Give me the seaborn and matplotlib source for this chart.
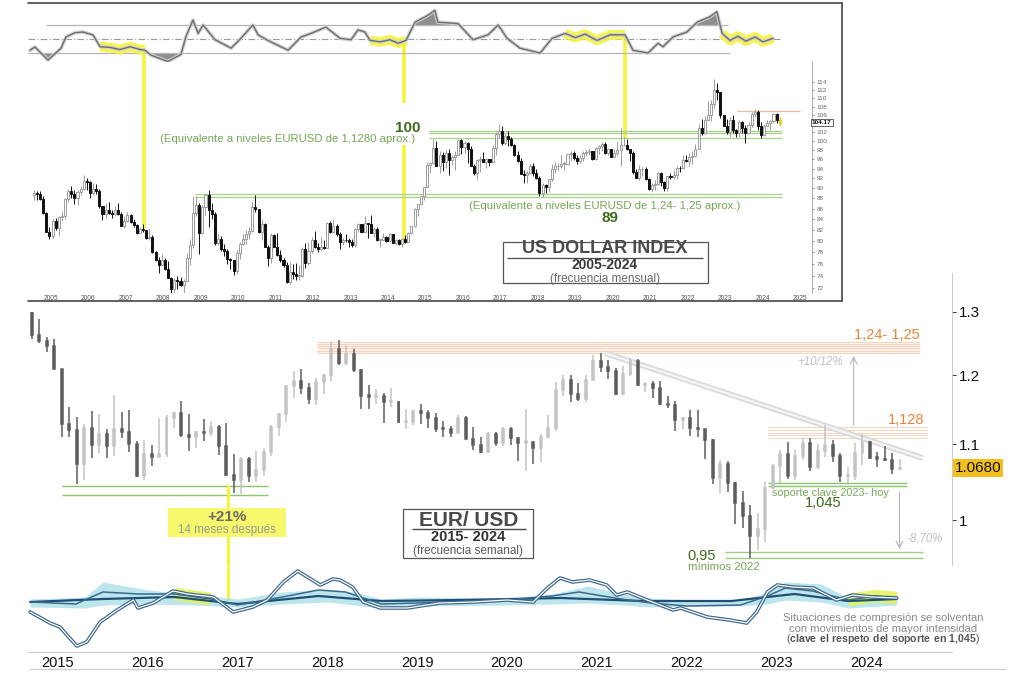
import numpy as np
import pandas as pd
import matplotlib
matplotlib.use("Agg")
import matplotlib.pyplot as plt
import seaborn as sns
from matplotlib.lines import Line2D
from matplotlib.patches import Rectangle
import matplotlib.transforms as mtransforms
from matplotlib.ticker import FixedLocator, FixedFormatter, NullLocator

# ======================= DATA =======================
# US Dollar Index, monthly, Jul 2004 - Jun 2024
dxy_first_month = 2004 + 6 / 12
dxy_open0 = 88.6
dxy_close = [
    89.0, 88.8, 87.9, 85.1, 81.7, 80.9,
    83.6, 82.4, 84.4, 84.5, 87.9, 89.5, 88.9, 88.0, 89.2, 89.8, 91.4, 91.2,
    89.1, 89.9, 89.5, 86.4, 85.0, 85.7, 85.2, 85.0, 85.8, 85.0, 82.8, 83.6,
    84.8, 83.4, 82.9, 81.5, 82.2, 81.9, 80.5, 80.8, 78.1, 76.6, 75.9, 76.7,
    75.1, 73.7, 71.8, 73.3, 73.2, 72.5, 73.2, 77.1, 79.3, 85.2, 86.6, 81.4,
    86.3, 88.6, 85.7, 85.0, 79.7, 80.3, 78.5, 78.3, 76.8, 76.6, 74.8, 77.9,
    79.5, 80.4, 81.2, 81.8, 86.3, 86.0, 81.6, 83.1, 79.0, 77.0, 81.1, 79.0,
    77.6, 76.7, 75.9, 73.0, 74.6, 74.3, 74.0, 74.0, 78.6, 76.2, 78.3, 80.2,
    79.0, 78.6, 79.0, 78.8, 83.2, 81.6, 82.7, 81.2, 79.9, 80.2, 80.1, 79.8,
    79.2, 82.1, 83.0, 81.7, 83.3, 83.1, 81.5, 82.1, 80.2, 80.2, 80.7, 80.0,
    81.2, 79.7, 80.1, 79.5, 80.4, 79.8, 81.5, 82.8, 86.0, 86.9, 88.4, 90.3,
    94.8, 95.3, 98.4, 94.6, 96.9, 95.5, 97.3, 95.8, 96.4, 97.0, 100.2, 98.6,
    99.6, 98.2, 94.6, 93.1, 95.9, 96.1, 95.5, 96.0, 95.4, 98.4, 101.5, 102.2,
    99.5, 101.1, 100.4, 99.1, 97.0, 95.6, 92.9, 92.7, 93.1, 94.5, 93.1, 92.1,
    89.1, 90.6, 90.2, 91.8, 94.0, 94.5, 94.5, 95.1, 95.1, 97.1, 97.3, 96.2,
    95.6, 96.2, 97.3, 97.5, 97.8, 96.1, 98.5, 98.9, 99.4, 97.4, 98.3, 96.4,
    97.4, 98.1, 99.0, 99.0, 98.3, 97.4, 93.3, 92.1, 93.9, 94.0, 91.9, 89.9,
    90.6, 90.9, 93.2, 91.3, 90.0, 92.4, 92.2, 92.6, 94.2, 94.1, 95.9, 95.7,
    96.5, 96.7, 98.3, 103.0, 101.8, 104.7, 105.9, 108.7, 112.1, 111.5, 105.9, 103.5,
    102.1, 104.9, 102.5, 101.7, 104.3, 102.9, 101.9, 103.6, 106.2, 106.7, 103.5, 101.3,
    103.3, 104.2, 104.5, 106.2, 104.7, 104.17]
dxy_high = [
    89.6, 89.5, 89.4, 88.5, 85.4, 82.6,
    84.0, 84.3, 84.6, 85.5, 88.0, 89.8, 90.5, 89.6, 89.6, 90.5, 92.6, 92.0,
    91.4, 91.1, 90.9, 89.8, 86.5, 87.1, 87.2, 85.8, 86.5, 87.0, 85.4, 84.6,
    85.4, 85.0, 84.1, 83.1, 82.6, 83.0, 82.0, 82.1, 81.1, 78.3, 77.2, 77.7,
    77.0, 76.5, 73.9, 73.6, 74.0, 73.8, 73.5, 77.8, 80.4, 88.5, 88.5, 87.0,
    86.7, 88.9, 89.6, 87.0, 85.4, 81.4, 80.9, 79.4, 78.6, 77.1, 76.7, 78.4,
    79.9, 81.3, 82.0, 82.6, 87.2, 88.7, 86.0, 84.0, 83.3, 79.3, 81.5, 81.3,
    81.4, 78.4, 77.0, 76.3, 76.4, 76.0, 76.1, 75.9, 79.0, 79.6, 79.8, 80.8,
    81.8, 79.7, 80.7, 80.1, 83.5, 83.6, 84.1, 83.0, 81.6, 80.5, 81.3, 80.5,
    80.4, 82.3, 83.2, 83.1, 84.5, 83.3, 84.8, 82.5, 82.6, 80.6, 81.5, 80.9,
    81.5, 81.3, 80.4, 80.4, 80.6, 81.0, 81.6, 82.8, 86.1, 86.9, 88.6, 90.3,
    95.5, 95.5, 100.4, 100.0, 97.7, 97.5, 98.1, 98.3, 96.9, 97.9, 100.5, 100.5,
    100.0, 99.8, 98.8, 95.1, 96.0, 96.8, 97.6, 96.2, 96.0, 99.1, 102.0, 103.8,
    103.3, 101.8, 102.3, 101.0, 99.4, 97.9, 96.3, 93.7, 93.5, 95.2, 95.2, 94.0,
    92.4, 91.0, 90.9, 91.9, 95.0, 95.5, 95.2, 96.9, 95.7, 97.2, 97.7, 97.7,
    96.9, 96.9, 97.7, 98.3, 98.4, 97.8, 98.7, 99.0, 99.7, 99.7, 98.5, 98.3,
    98.2, 99.9, 103.0, 100.9, 100.5, 98.3, 97.8, 93.9, 94.7, 94.3, 94.3, 92.0,
    91.0, 91.6, 93.4, 93.4, 91.4, 92.4, 93.2, 93.7, 94.5, 94.6, 96.9, 96.9,
    97.4, 97.8, 99.4, 103.9, 105.0, 105.8, 109.3, 109.5, 114.8, 113.9, 111.6, 105.8,
    105.0, 105.4, 105.9, 102.8, 104.7, 104.5, 103.6, 104.4, 106.8, 107.3, 107.1, 104.3,
    103.8, 104.9, 104.7, 106.5, 106.5, 105.4]
dxy_low = [
    87.6, 87.6, 87.6, 84.9, 81.6, 80.4,
    80.4, 82.0, 80.9, 83.7, 84.1, 87.2, 88.1, 86.8, 86.6, 88.6, 89.7, 89.6,
    88.0, 88.7, 88.9, 86.2, 83.9, 84.3, 84.9, 84.3, 84.6, 84.8, 82.8, 82.3,
    83.5, 83.2, 82.6, 81.3, 81.4, 81.7, 80.3, 80.2, 77.9, 76.5, 74.5, 75.8,
    74.9, 73.6, 70.7, 71.3, 71.9, 72.3, 71.3, 73.1, 75.8, 78.8, 84.6, 77.7,
    81.3, 84.7, 82.6, 84.1, 79.3, 79.2, 78.3, 77.4, 76.0, 75.2, 74.2, 74.3,
    76.9, 79.2, 79.5, 80.3, 81.6, 85.4, 81.4, 80.1, 78.9, 75.6, 76.2, 78.9,
    77.3, 76.3, 75.5, 72.9, 72.7, 73.5, 73.4, 73.4, 73.9, 75.3, 75.9, 77.9,
    78.7, 78.1, 78.4, 78.6, 78.9, 81.4, 81.9, 80.9, 78.6, 79.3, 79.8, 79.0,
    78.9, 78.9, 81.6, 81.6, 81.6, 80.5, 81.5, 80.8, 80.0, 79.0, 80.1, 79.8,
    79.9, 79.6, 79.3, 79.3, 78.9, 79.7, 79.8, 81.3, 82.6, 84.5, 86.6, 87.6,
    90.3, 93.2, 95.1, 94.5, 93.1, 93.5, 94.1, 92.6, 94.8, 93.8, 96.8, 97.2,
    97.4, 95.2, 94.6, 92.6, 91.9, 93.4, 95.5, 94.1, 94.6, 95.4, 96.9, 100.6,
    99.2, 99.2, 98.9, 98.8, 96.8, 95.5, 92.8, 91.0, 91.0, 92.8, 92.5, 91.9,
    88.4, 88.3, 89.1, 89.2, 91.5, 93.2, 93.7, 94.1, 93.8, 94.8, 95.7, 95.9,
    95.0, 95.2, 95.7, 96.7, 97.0, 95.8, 95.9, 97.1, 97.9, 97.1, 97.0, 96.4,
    96.4, 97.0, 94.6, 98.8, 98.1, 95.7, 92.9, 92.1, 91.7, 92.5, 91.7, 89.7,
    89.2, 89.7, 90.6, 90.4, 89.5, 89.5, 91.8, 91.8, 91.9, 93.3, 93.9, 95.5,
    94.6, 95.1, 96.8, 98.3, 101.3, 101.6, 105.1, 104.6, 107.7, 109.5, 105.3, 103.4,
    101.5, 100.8, 101.9, 100.8, 100.8, 101.9, 99.6, 101.7, 103.2, 105.4, 102.5, 100.6,
    101.1, 103.3, 102.4, 104.2, 104.1, 103.5]

# EUR/USD, Sep 2014 - May 2024
eur_first_month = 2014 + 8 / 12
eur_open0 = 1.2985
eur_close = [
    1.2631, 1.2526, 1.2452, 1.2098,
    1.1291, 1.1196, 1.0731, 1.1224, 1.0987, 1.1146, 1.0985, 1.1212, 1.1177, 1.1006, 1.0565, 1.0862,
    1.0830, 1.0872, 1.1380, 1.1452, 1.1131, 1.1105, 1.1175, 1.1157, 1.1240, 1.0983, 1.0590, 1.0517,
    1.0797, 1.0575, 1.0652, 1.0894, 1.1240, 1.1426, 1.1842, 1.1910, 1.1814, 1.1646, 1.1905, 1.2005,
    1.2414, 1.2195, 1.2324, 1.2078, 1.1694, 1.1685, 1.1690, 1.1601, 1.1605, 1.1312, 1.1317, 1.1467,
    1.1446, 1.1371, 1.1217, 1.1215, 1.1166, 1.1371, 1.1076, 1.0986, 1.0899, 1.1152, 1.1017, 1.1213,
    1.1093, 1.1027, 1.1031, 1.0954, 1.1103, 1.1234, 1.1778, 1.1937, 1.1722, 1.1646, 1.1927, 1.2216,
    1.2136, 1.2075, 1.1728, 1.2020, 1.2227, 1.1858, 1.1870, 1.1807, 1.1580, 1.1558, 1.1338, 1.1370,
    1.1234, 1.1218, 1.1067, 1.0545, 1.0733, 1.0484, 1.0220, 1.0054, 0.9802, 0.9884, 1.0406, 1.0705,
    1.0863, 1.0576, 1.0839, 1.1018, 1.0689, 1.0912, 1.0998, 1.0842, 1.0573, 1.0576, 1.0888, 1.1039,
    1.0818, 1.0805, 1.0790, 1.0665, 1.0680]
eur_high = [
    1.3000, 1.2887, 1.2600, 1.2570,
    1.2100, 1.1534, 1.1387, 1.1290, 1.1467, 1.1436, 1.1215, 1.1714, 1.1460, 1.1495, 1.1043, 1.1060,
    1.0986, 1.1376, 1.1410, 1.1464, 1.1616, 1.1428, 1.1185, 1.1366, 1.1327, 1.1278, 1.1300, 1.0874,
    1.0829, 1.0829, 1.0906, 1.0951, 1.1268, 1.1446, 1.1846, 1.2070, 1.2092, 1.1880, 1.1961, 1.2023,
    1.2537, 1.2556, 1.2476, 1.2414, 1.2098, 1.1852, 1.1791, 1.1744, 1.1815, 1.1625, 1.1500, 1.1486,
    1.1570, 1.1489, 1.1448, 1.1324, 1.1265, 1.1412, 1.1403, 1.1249, 1.1109, 1.1179, 1.1175, 1.1239,
    1.1239, 1.1053, 1.1496, 1.1039, 1.1146, 1.1422, 1.1908, 1.2011, 1.2011, 1.1880, 1.2004, 1.2310,
    1.2349, 1.2243, 1.2113, 1.2150, 1.2266, 1.2254, 1.1895, 1.1909, 1.1909, 1.1692, 1.1616, 1.1386,
    1.1483, 1.1495, 1.1185, 1.1076, 1.0787, 1.0774, 1.0486, 1.0368, 1.0198, 1.0094, 1.0497, 1.0736,
    1.0929, 1.1033, 1.0930, 1.1095, 1.1092, 1.1012, 1.1276, 1.1065, 1.0882, 1.0695, 1.1017, 1.1140,
    1.1046, 1.0897, 1.0981, 1.0885, 1.0800]
eur_low = [
    1.2571, 1.2500, 1.2358, 1.2100,
    1.1098, 1.1098, 1.0462, 1.0520, 1.0819, 1.0886, 1.0808, 1.0846, 1.1087, 1.0897, 1.0558, 1.0524,
    1.0711, 1.0835, 1.0822, 1.1234, 1.1098, 1.0912, 1.0952, 1.1046, 1.1122, 1.0851, 1.0569, 1.0352,
    1.0340, 1.0494, 1.0493, 1.0569, 1.0839, 1.1119, 1.1312, 1.1662, 1.1717, 1.1574, 1.1554, 1.1717,
    1.1915, 1.2153, 1.2155, 1.2055, 1.1510, 1.1508, 1.1576, 1.1301, 1.1526, 1.1302, 1.1216, 1.1269,
    1.1289, 1.1234, 1.1176, 1.1110, 1.1107, 1.1181, 1.1102, 1.0926, 1.0879, 1.0879, 1.0981, 1.0981,
    1.0992, 1.0778, 1.0636, 1.0727, 1.0766, 1.1097, 1.1185, 1.1696, 1.1612, 1.1622, 1.1603, 1.1925,
    1.2053, 1.1952, 1.1704, 1.1704, 1.1986, 1.1848, 1.1752, 1.1664, 1.1563, 1.1524, 1.1186, 1.1222,
    1.1121, 1.1106, 1.0806, 1.0470, 1.0349, 1.0359, 0.9952, 0.9901, 0.9536, 0.9632, 0.9730, 1.0393,
    1.0483, 1.0533, 1.0516, 1.0788, 1.0635, 1.0662, 1.0834, 1.0766, 1.0488, 1.0448, 1.0517, 1.0723,
    1.0795, 1.0695, 1.0768, 1.0601, 1.0650]

# Top oscillator (DXY)
osc1_t = [2004.44, 2004.57, 2004.92, 2005.27, 2005.40, 2005.64, 2005.85, 2006.12, 2006.31, 2006.58,
          2006.84, 2007.11, 2007.38, 2007.51, 2007.67, 2008.12, 2008.47, 2008.60, 2008.79, 2008.93,
          2009.06, 2009.38, 2009.81, 2010.07, 2010.39, 2010.53, 2010.79, 2011.33, 2011.68, 2011.94,
          2012.34, 2012.72, 2013.01, 2013.20, 2013.38, 2013.52, 2013.79, 2014.05, 2014.27, 2014.48,
          2014.72, 2015.07, 2015.25, 2015.33, 2015.87, 2016.27, 2016.67, 2016.94, 2017.18, 2017.52,
          2018.06, 2018.38, 2018.73, 2019.00, 2019.26, 2019.58, 2019.93, 2020.33, 2020.54, 2020.94,
          2021.21, 2021.34, 2021.61, 2021.98, 2022.25, 2022.60, 2022.78, 2022.92, 2023.13, 2023.34,
          2023.56, 2023.80, 2024.01, 2024.28]
osc1_v = [-0.8, -0.57, -1.5, -0.65, 0.15, 0.45, 0.5, 0.3, -0.55, -0.6,
          -0.75, -0.55, -0.75, -0.8, -1.15, -1.6, -1.1, 0.15, 1.35, 0.4,
          1.0, -0.05, -0.65, 0.05, 1.0, 0.3, -0.1, -0.8, 0.15, 0.4,
          0.85, 0.05, -0.05, 0.65, 0.5, -0.1, -0.2, -0.05, -0.3, -0.1,
          1.2, 1.7, 2.05, 1.2, 1.1, -0.05, 0.3, 1.0, 0.05, -0.65,
          -1.0, 0.05, 0.4, 0.1, 0.35, -0.1, 0.3, 0.3, -0.8, -1.0,
          -0.3, -0.55, 0.15, 0.5, 1.2, 1.6, 1.95, 0.4, -0.1, 0.2,
          -0.15, 0.15, -0.2, 0.05]
osc1_yellow = [(2006.31, 2007.51), (2013.52, 2014.48), (2018.73, 2020.33), (2022.92, 2024.28)]

# Bottom oscillator (EUR/USD)
fast_t = [2014.69, 2014.91, 2015.02, 2015.21, 2015.32, 2015.47, 2015.66, 2015.84, 2015.89, 2016.06,
          2016.28, 2016.44, 2016.73, 2016.95, 2017.17, 2017.33, 2017.51, 2017.67, 2017.92, 2018.06,
          2018.14, 2018.28, 2018.40, 2018.59, 2018.89, 2019.25, 2019.62, 2020.00, 2020.29, 2020.45,
          2020.59, 2020.73, 2020.92, 2021.11, 2021.22, 2021.34, 2021.56, 2021.85, 2021.93, 2022.23,
          2022.48, 2022.67, 2022.78, 2022.90, 2023.01, 2023.18, 2023.41, 2023.67, 2023.85, 2024.07,
          2024.34]
fast_v = [-1.0, -2.1, -2.5, -4.4, -4.0, -2.0, -0.8, 0.2, -0.6, -0.1,
          1.1, 0.8, 0.5, -1.0, -0.5, 0.2, 2.0, 3.1, 1.7, 2.3,
          2.2, 1.5, 0.0, -0.6, -0.6, -0.1, 0.0, 0.2, 0.0, 1.4,
          2.4, 2.0, 2.2, 1.7, 0.7, 1.0, 0.2, -0.8, -0.6, -1.5,
          -1.8, -2.1, -1.0, 1.0, 1.7, 1.5, 1.4, 0.2, 0.7, 0.5,
          0.4]
mid_t = [2014.69, 2015.2, 2015.5, 2015.9, 2016.3, 2016.7, 2017.0, 2017.5, 2017.9, 2018.2, 2018.6,
         2019.0, 2020.0, 2020.5, 2020.8, 2021.2, 2021.6, 2022.0, 2022.6, 2022.9, 2023.1, 2023.4,
         2023.8, 2024.1, 2024.34]
mid_v = [0.0, -0.2, 1.0, 0.8, 0.8, 0.3, -0.3, 0.5, 1.2, 1.0, -0.2,
         -0.1, 0.2, 0.6, 1.0, 0.4, -0.1, -0.4, -0.3, 0.6, 1.4, 1.1,
         0.2, 0.6, 0.4]
slow_t = [2014.69, 2015.5, 2016.3, 2017.0, 2017.9, 2018.6, 2019.5, 2020.6, 2021.5, 2022.5,
          2023.2, 2023.8, 2024.34]
slow_v = [0.0, 0.3, 0.5, -0.2, 0.6, 0.1, 0.2, 0.4, 0.1, 0.1, 0.8, 0.1, 0.3]
band_t = [2014.69, 2015.3, 2015.5, 2016.0, 2016.5, 2017.0, 2017.5, 2018.0, 2018.3, 2018.6,
          2019.0, 2020.0, 2020.5, 2020.9, 2021.3, 2021.6, 2022.0, 2022.6, 2022.9, 2023.1,
          2023.5, 2023.8, 2024.34]
band_hi = [0.3, 0.5, 2.0, 1.2, 0.8, 0.3, 1.0, 1.3, 1.0, 0.3,
           0.5, 0.4, 0.8, 1.6, 0.8, 0.4, 0.2, 0.2, 1.0, 2.0,
           1.8, 0.4, 0.6]
band_lo = [-0.5, -0.6, -0.3, -0.2, -0.3, -0.5, -0.2, 0.0, -0.3, -0.6,
           -0.4, -0.3, -0.2, -0.1, -0.3, -0.5, -0.4, -0.4, -0.2, 0.2,
           0.0, -0.6, -0.3]
osc2_yellow = [(2016.3, 2016.9), (2023.8, 2024.34)]

# Levels / annotations (values)
dxy_lvl_100 = [102.3, 101.7, 100.6]
dxy_lvl_89 = [88.8, 88.2]
dxy_lvl_res = 106.9
eur_lvl_124 = [1.2345, 1.238, 1.2415, 1.245, 1.2485, 1.2517]
eur_lvl_1128 = [1.109, 1.1128, 1.1166, 1.1205, 1.1246]
eur_lvl_support = [1.048, 1.0441]
eur_lvl_095 = [0.961, 0.953]
eur_lvl_2016 = [1.0441, 1.0325]
trend_t = [2021.09, 2024.63]
trend_v = [1.2345, 1.0813]
dxy_years = list(range(2005, 2026))
eur_years = list(range(2015, 2025))

# ======================= STYLE =======================
sns.set_theme(style="white")
plt.rcParams['font.family'] = ['Liberation Sans', 'DejaVu Sans']
plt.rcParams['mathtext.fontset'] = 'custom'
plt.rcParams['mathtext.rm'] = 'Liberation Sans'
plt.rcParams['mathtext.bf'] = 'Liberation Sans:bold'

W, H = 1020, 682
fig = plt.figure(figsize=(W / 100, H / 100), dpi=100)
fig.patch.set_facecolor('white')


def px(x0, y0, x1, y1):
    return [x0 / W, 1 - y1 / H, (x1 - x0) / W, (y1 - y0) / H]


GREEN_D = '#3e6b1c'
GREEN_T = '#76a656'
GREEN_L = '#a9d18e'
ORANGE = '#e8833a'
SALMON = '#f8d3bd'
YELLOW = '#f4f43a'


def candles(ax, t, o, h, l, c, width, up_face, up_edge, dn_face, dn_edge, lw):
    up = c >= o
    ax.vlines(t, l, h, colors=np.where(up, up_edge, dn_edge), lw=lw, zorder=3)
    bottom = np.minimum(o, c)
    height = np.maximum(np.abs(c - o), bottom * 0.0015)
    ax.bar(t, height, bottom=bottom, width=width,
           color=np.where(up, up_face, dn_face),
           edgecolor=np.where(up, up_edge, dn_edge), linewidth=lw, zorder=4)


def hide(ax):
    for s in ax.spines.values():
        s.set_visible(False)
    ax.set_facecolor('none')


# ---------- Axes ----------
ax0 = fig.add_axes(px(28, 4, 812, 62))
ax1 = fig.add_axes(px(28, 62, 812, 293))
ax2 = fig.add_axes(px(28, 273, 952, 565))
ax3 = fig.add_axes(px(28, 565, 952, 652))
for a in (ax0, ax1, ax2, ax3):
    hide(a)

XL1 = (2004.386, 2025.32)
XL2 = (2014.666, 2024.955)

# ================= TOP: DXY oscillator =================
t1 = np.array(osc1_t)
v1 = np.array(osc1_v)
ax0.set_xlim(*XL1)
ax0.set_ylim(-1.64, 2.5)
ax0.hlines(1, 2004.87, 2023.08, color='#b5b5b5', lw=0.9)
ax0.hlines(-1, 2004.39, 2023.13, color='#b5b5b5', lw=0.9)
ax0.hlines(0, 2004.39, 2024.47, color='#9a9a9a', lw=0.8, linestyles=(0, (6, 2, 1, 2)))
ax0.fill_between(t1, v1, 1, where=v1 > 1, interpolate=True, color='#8f8f8f', lw=0)
ax0.fill_between(t1, v1, -1, where=v1 < -1, interpolate=True, color='#8f8f8f', lw=0)
for a, b in osc1_yellow:
    m = (t1 >= a - 1e-6) & (t1 <= b + 1e-6)
    ax0.plot(t1[m], v1[m], color=YELLOW, lw=7, solid_capstyle='butt', alpha=0.9, zorder=2)
sns.lineplot(x=t1, y=v1, ax=ax0, color='#cfcfcf', lw=2.6, legend=False, zorder=3)
sns.lineplot(x=t1, y=v1, ax=ax0, color='#6f6f6f', lw=1.0, legend=False, zorder=4)
ax0.set_xticks([]); ax0.set_yticks([])
ax0.set_xlabel(''); ax0.set_ylabel('')

# ================= TOP: DXY candles =================
nd = len(dxy_close)
td = dxy_first_month + np.arange(nd) / 12 + 1 / 24
cd = np.array(dxy_close)
od = np.concatenate([[dxy_open0], cd[:-1]])
hd = np.array(dxy_high)
ld = np.array(dxy_low)
ax1.set_yscale('log')
ax1.set_xlim(*XL1)
ax1.set_ylim(71.23, 119.28)
candles(ax1, td[:-1], od[:-1], hd[:-1], ld[:-1], cd[:-1], 0.055,
        'white', '#9c9c9c', '#111111', '#111111', 0.7)
candles(ax1, td[-1:], od[-1:], hd[-1:], ld[-1:], cd[-1:], 0.055,
        '#fff7a8', '#d9c800', '#fff7a8', '#d9c800', 0.9)

ax1.hlines(dxy_lvl_100, 2015.1, 2024.52, color=GREEN_L, lw=0.9, zorder=2)
ax1.hlines(dxy_lvl_89, 2008.85, 2024.52, color=GREEN_L, lw=0.9, zorder=2)
ax1.hlines(dxy_lvl_res, 2023.32, 2025.0, color='#f3b898', lw=0.9, zorder=2)

ax1.text(2014.53, 102.9, '100', ha='center', va='center', fontsize=11,
         fontweight='bold', color=GREEN_D)
ax1.text(2011.33, 100.44, '(Equivalente a niveles EURUSD de 1,1280 aprox.)', ha='center',
         va='center', fontsize=8.2, color=GREEN_T)
ax1.text(2019.79, 86.45, '(Equivalente a niveles EURUSD de 1,24- 1,25 aprox.)', ha='center',
         va='center', fontsize=8.2, color=GREEN_T)
ax1.text(2019.93, 84.3, '89', ha='center', va='center', fontsize=11,
         fontweight='bold', color=GREEN_D)

ax1.add_patch(Rectangle((2017.07, 72.85), 2022.54 - 2017.07, 79.9 - 72.85,
                        fill=False, edgecolor='#555555', lw=0.9, zorder=5))
ax1.text(2019.79, 78.6, 'US DOLLAR INDEX', ha='center', va='center', fontsize=13,
         fontweight='bold', color='#4a4a4a', zorder=6)
ax1.hlines(77.05, 2017.18, 2022.40, color='#4a4a4a', lw=0.9, zorder=6)
ax1.text(2019.79, 75.75, '2005-2024', ha='center', va='center', fontsize=10,
         fontweight='bold', color='#3a3a3a', zorder=6)
ax1.text(2019.79, 73.55, '(frecuencia mensual)', ha='center', va='center', fontsize=8.5,
         color='#6a6a6a', zorder=6)

# yellow verticals (top)
ax0.vlines([2007.48], -1.64, -0.9, color=YELLOW, lw=2.6, zorder=1)
ax0.vlines([2014.43], -1.64, -0.3, color=YELLOW, lw=2.6, zorder=1)
ax0.vlines([2020.33], -1.64, 0.3, color=YELLOW, lw=2.6, zorder=1)
ax1.vlines([2007.48], 82.4, 119.28, color=YELLOW, lw=2.6, zorder=1)
ax1.vlines([2014.43], 108.9, 119.28, color=YELLOW, lw=2.6, zorder=1)
ax1.vlines([2014.43], 79.4, 99.0, color=YELLOW, lw=2.6, zorder=1)
ax1.vlines([2020.33], 100.7, 119.28, color=YELLOW, lw=2.6, zorder=1)

# right axis (DXY)
ax1.spines['right'].set_visible(True)
ax1.spines['right'].set_color('#a0a0a0')
ax1.spines['right'].set_linewidth(0.6)
dxy_ticks = [v for v in range(72, 115, 2) if v != 104]
ax1.yaxis.set_major_locator(FixedLocator(dxy_ticks))
ax1.yaxis.set_major_formatter(FixedFormatter([str(v) for v in dxy_ticks]))
ax1.yaxis.set_minor_locator(NullLocator())
ax1.yaxis.tick_right()
ax1.tick_params(axis='y', labelsize=4.6, colors='#666666', length=1.5, width=0.5, pad=2)
ax1.text(1.0, 104.17, '104.17', transform=mtransforms.blended_transform_factory(ax1.transAxes, ax1.transData),
         ha='left', va='center', fontsize=4.6, fontweight='bold', color='#111111',
         bbox=dict(boxstyle='square,pad=0.15', fc='white', ec='#222222', lw=0.5), zorder=7)
ax1.set_xticks(dxy_years)
ax1.set_xticklabels([str(y) for y in dxy_years])
ax1.tick_params(axis='x', labelsize=4.8, colors='#555555', length=0, pad=1.5)
ax1.set_xlabel(''); ax1.set_ylabel('')

# ================= BOTTOM: EUR/USD candles =================
ne = len(eur_close)
te = eur_first_month + np.arange(ne) / 12 + 1 / 24
ce = np.array(eur_close)
oe = np.concatenate([[eur_open0], ce[:-1]])
he = np.array(eur_high)
le = np.array(eur_low)
ax2.set_yscale('log')
ax2.set_xlim(*XL2)
ax2.set_ylim(0.9449, 1.3655)

ax2.fill_between([2017.88, 2024.6], eur_lvl_124[0], eur_lvl_124[-1], color='#fef1ea', lw=0, zorder=1)
ax2.hlines(eur_lvl_124, 2017.88, 2024.6, color=SALMON, lw=0.7, zorder=1)
ax2.hlines(eur_lvl_1128, 2022.91, 2024.68, color=SALMON, lw=0.7, zorder=1)
ax2.hlines(eur_lvl_support, 2022.91, 2024.45, color='#8fc46e', lw=1.0, zorder=1)
ax2.hlines(eur_lvl_095, 2022.43, 2024.63, color='#9fcc80', lw=1.0, zorder=1)
ax2.hlines(eur_lvl_2016, 2015.04, 2017.34, color='#8fc46e', lw=1.0, zorder=1)
ax2.plot(trend_t, trend_v, color='#d9d9d9', lw=4.2, solid_capstyle='butt', zorder=2)
ax2.plot(trend_t, trend_v, color='#f3f3f3', lw=1.8, solid_capstyle='butt', zorder=2)

candles(ax2, te, oe, he, le, ce, 0.022, '#c4c4c4', '#c4c4c4', '#5c5c5c', '#5c5c5c', 1.1)

ax2.annotate('', xy=(2023.86, 1.2298), xytext=(2023.86, 1.1272),
             arrowprops=dict(arrowstyle='->', color='#b5b5b5', lw=0.8, shrinkA=0, shrinkB=0))
ax2.annotate('', xy=(2024.37, 0.964), xytext=(2024.37, 1.036),
             arrowprops=dict(arrowstyle='->', color='#b5b5b5', lw=0.8, shrinkA=0, shrinkB=0))
ax2.text(2024.23, 1.2628, '1,24- 1,25', ha='center', va='center', fontsize=10.5, color=ORANGE)
ax2.text(2023.49, 1.2206, '+10/12%', ha='center', va='center', fontsize=8.3,
         color='#c0c0c0', style='italic')
ax2.text(2024.44, 1.1344, '1,128', ha='center', va='center', fontsize=10.5, color=ORANGE)
ax2.text(2023.60, 1.0348, 'soporte clave 2023- hoy', ha='center', va='center', fontsize=7.8,
         color=GREEN_T)
ax2.text(2023.52, 1.0218, '1,045', ha='center', va='center', fontsize=10.5, color=GREEN_D)
ax2.text(2024.65, 0.9774, '-8,70%', ha='center', va='center', fontsize=8.3,
         color='#c0c0c0', style='italic')
ax2.text(2022.17, 0.9555, '0,95', ha='center', va='center', fontsize=10.5, color=GREEN_D)
ax2.text(2022.41, 0.9422, 'mínimos 2022', ha='center', va='center', fontsize=8.2, color=GREEN_T)

# EUR/USD title box
ax2.add_patch(Rectangle((2018.84, 0.953), 2020.29 - 2018.84, 1.0139 - 0.953,
                        fill=False, edgecolor='#555555', lw=0.9, zorder=5))
ax2.text(2019.57, 0.9990, 'EUR/ USD', ha='center', va='center', fontsize=15,
         fontweight='bold', color='#4a4a4a', zorder=6)
ax2.hlines(0.9890, 2018.94, 2020.21, color='#4a4a4a', lw=1.0, zorder=6)
ax2.text(2019.57, 0.9786, '2015- 2024', ha='center', va='center', fontsize=10.5,
         fontweight='bold', color='#333333', zorder=6)
ax2.text(2019.57, 0.9619, '(frecuencia semanal)', ha='center', va='center', fontsize=8.5,
         color='#5a5a5a', zorder=6)

# +21% box & yellow vertical
ax2.vlines([2016.89], 0.9449, 1.045, color=YELLOW, lw=2.2, zorder=3)
ax3.vlines([2016.89], 0.2, 3.7, color=YELLOW, lw=2.2, zorder=1)
ax2.add_patch(Rectangle((2016.22, 0.9786), 2017.54 - 2016.22, 1.0151 - 0.9786,
                        facecolor='#f8f86c', edgecolor='none', zorder=6))
ax2.text(2016.88, 1.0037, '+21%', ha='center', va='center', fontsize=11,
         fontweight='bold', color='#6a6a6a', zorder=7)
ax2.text(2016.88, 0.9871, '14 meses después', ha='center', va='center', fontsize=8.4,
         color='#9a9a9a', zorder=7)

# right axis EUR/USD
ax2.spines['right'].set_visible(True)
ax2.spines['right'].set_color('#cccccc')
ax2.spines['right'].set_linewidth(0.8)
ax2.yaxis.set_major_locator(FixedLocator([1.0, 1.1, 1.2, 1.3]))
ax2.yaxis.set_major_formatter(FixedFormatter(['1', '1.1', '1.2', '1.3']))
ax2.yaxis.set_minor_locator(NullLocator())
ax2.yaxis.tick_right()
ax2.tick_params(axis='y', labelsize=11, colors='#111111', length=3, width=0.6, pad=2)
ax2.set_xticks([])
ax2.text(1.003, 1.068, '1.0680', transform=mtransforms.blended_transform_factory(ax2.transAxes, ax2.transData),
         ha='left', va='center', fontsize=11, color='#111111',
         bbox=dict(boxstyle='square,pad=0.12', fc='#f2c01e', ec='none'), zorder=7)
ax2.set_xlabel(''); ax2.set_ylabel('')

# ================= BOTTOM oscillator =================
ax3.set_xlim(*XL2)
ax3.set_ylim(-5.0, 3.7)
bt = np.array(band_t)
ax3.fill_between(bt, band_lo, band_hi, color='#a6dde6', alpha=0.75, lw=0, zorder=1)
mt = np.array(mid_t); mv = np.array(mid_v)
for a, b in osc2_yellow:
    m = (mt >= a - 1e-6) & (mt <= b + 1e-6)
    ax3.plot(mt[m], mv[m], color='#e3f25a', lw=9, alpha=0.85, solid_capstyle='butt', zorder=2)
sns.lineplot(x=slow_t, y=slow_v, ax=ax3, color='#1f4f75', lw=1.6, legend=False, zorder=3)
sns.lineplot(x=mid_t, y=mid_v, ax=ax3, color='#3a6a8c', lw=1.1, legend=False, zorder=3)
sns.lineplot(x=fast_t, y=fast_v, ax=ax3, color='#3a6488', lw=2.6, legend=False, zorder=4)
sns.lineplot(x=fast_t, y=fast_v, ax=ax3, color='white', lw=0.9, legend=False, zorder=5)
ax3.spines['bottom'].set_visible(True)
ax3.spines['bottom'].set_color('#cccccc')
ax3.spines['bottom'].set_linewidth(0.8)
ax3.set_yticks([])
ax3.set_xticks(eur_years)
ax3.set_xticklabels([str(y) for y in eur_years])
ax3.tick_params(axis='x', labelsize=10.5, colors='#111111', length=0, pad=3)
ax3.set_xlabel(''); ax3.set_ylabel('')

ax3.text(2024.19, -1.6, 'Situaciones de compresión se solventan', ha='center', va='center',
         fontsize=8, color='#8a8a8a')
ax3.text(2024.19, -2.7, 'con movimientos de mayor intensidad', ha='center', va='center',
         fontsize=8, color='#8a8a8a')
ax3.text(2024.19, -3.75, '(' + r'$\mathbf{clave\ el\ respeto\ del\ soporte\ en\ 1{,}045}$' + ')',
         ha='center', va='center', fontsize=7.6, color='#555555')

# ================= frame lines =================
def fline(x0, y0, x1, y1, color, lw):
    fig.add_artist(Line2D([x0 / W, x1 / W], [1 - y0 / H, 1 - y1 / H],
                          transform=fig.transFigure, color=color, lw=lw))

fline(28, 3, 842, 3, '#444444', 1.2)
fline(842, 3, 842, 301, '#444444', 1.2)
fline(28, 301, 842, 301, '#444444', 1.2)
fline(30, 669, 1005, 669, '#cccccc', 0.8)

fig.savefig('out.png', dpi=100, facecolor='white')
